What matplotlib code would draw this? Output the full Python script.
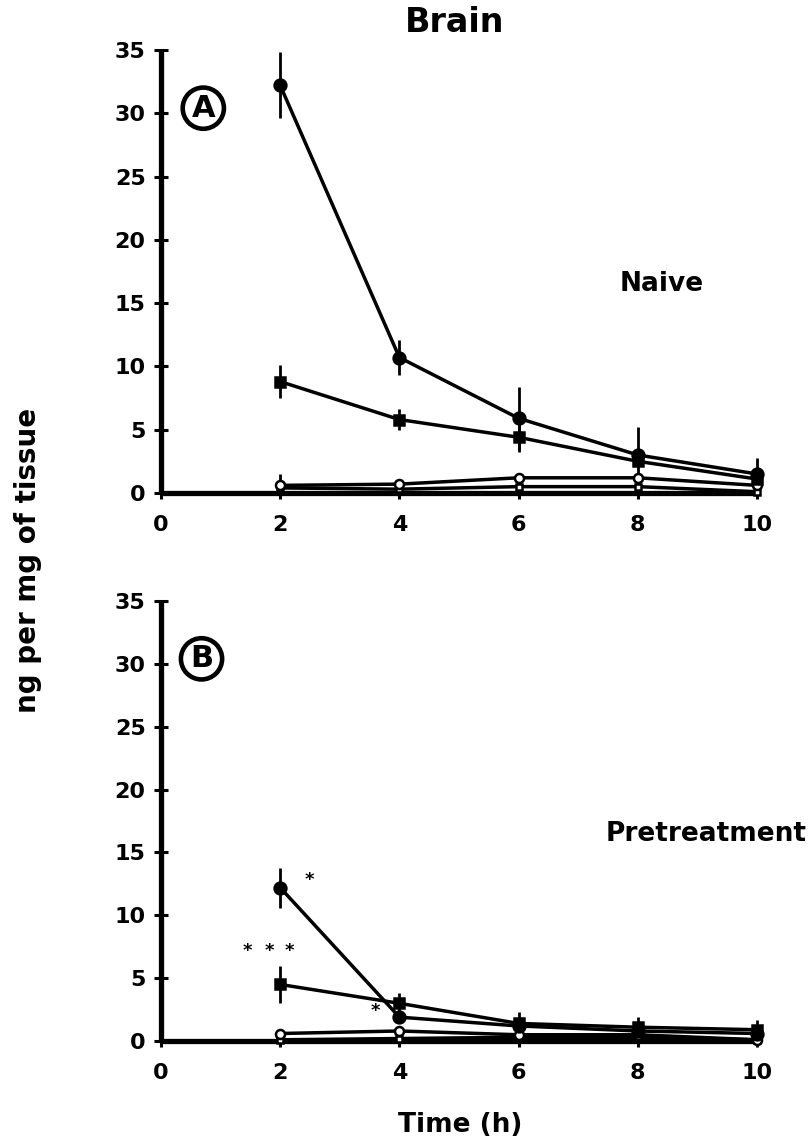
import matplotlib
matplotlib.use("Agg")
import matplotlib.pyplot as plt

plt.rcParams['font.family'] = ['DejaVu Sans']
plt.rcParams['font.weight'] = 'bold'

# -------------------------------------------------------------
# data
# -------------------------------------------------------------
time_h = [2, 4, 6, 8, 10]

# panel A - naive
a_fcirc = [32.2, 10.7, 5.9, 3.0, 1.5]
a_fcirc_err = [2.6, 1.4, 2.5, 2.2, 1.3]
a_fsq = [8.8, 5.8, 4.4, 2.5, 1.1]
a_fsq_err = [1.3, 0.8, 1.2, 0.5, 0.3]
a_ocirc = [0.6, 0.7, 1.2, 1.2, 0.6]
a_ocirc_err = [0.9, 0.2, 0.4, 0.2, 0.1]
a_osq = [0.4, 0.3, 0.5, 0.5, 0.1]

# panel B - pretreatment
b_fcirc = [12.2, 1.9, 1.2, 0.8, 0.6]
b_fcirc_err = [1.6, 0.4, 0.3, 0.2, 0.2]
b_fsq = [4.5, 3.0, 1.4, 1.1, 0.9]
b_fsq_err = [1.5, 0.8, 0.9, 0.8, 0.8]
b_ocirc = [0.6, 0.8, 0.5, 0.5, 0.1]
b_ocirc_err = [0.2, 0.3, 0.1, 0.1, 0.1]
b_osq = [0.1, 0.2, 0.3, 0.3, 0.1]

yticks = [0, 5, 10, 15, 20, 25, 30, 35]
xticks = [0, 2, 4, 6, 8, 10]

# significance stars: (x, y, text)
stars_b = [(1.45, 7.2, '*'), (1.81, 7.2, '*'), (2.16, 7.2, '*'),
           (2.49, 12.8, '*'), (3.6, 2.4, '*')]

LW = 2.5


def draw_series(ax, y, err, marker, filled, ms):
    fc = 'black' if filled else 'white'
    if err is not None:
        ax.errorbar(time_h, y, yerr=err, fmt='none', ecolor='black',
                    elinewidth=2.0, capsize=0, clip_on=False, zorder=2)
    ax.plot(time_h, y, color='black', lw=LW, marker=marker, ms=ms,
            mfc=fc, mec='black', mew=1.8, clip_on=False, zorder=3)


def style_axes(ax):
    ax.set_xlim(0, 10)
    ax.set_ylim(0, 35)
    for s in ['top', 'right']:
        ax.spines[s].set_visible(False)
    for s in ['left', 'bottom']:
        ax.spines[s].set_linewidth(3.8)
        ax.spines[s].set_capstyle('butt')
    ax.set_yticks(yticks)
    ax.set_xticks(xticks)
    ax.tick_params(axis='y', direction='inout', length=10, width=2.2,
                   labelsize=16, pad=6)
    ax.tick_params(axis='x', direction='out', length=4, width=2.2,
                   labelsize=16, pad=12)
    for lab in ax.get_xticklabels() + ax.get_yticklabels():
        lab.set_fontweight('bold')


def panel_letter(ax, x, y, letter):
    ax.text(x, y, letter, fontsize=22, fontweight='bold', ha='center',
            va='center',
            bbox=dict(boxstyle='circle,pad=0.2', fc='white', ec='black', lw=3.3))


fig = plt.figure(figsize=(8.11, 11.43), dpi=100)
axA = fig.add_axes([0.1985, 0.5687, 0.735, 0.3876])
axB = fig.add_axes([0.1985, 0.0892, 0.735, 0.3850])

# panel A
draw_series(axA, a_osq, None, 's', False, 5)
draw_series(axA, a_ocirc, a_ocirc_err, 'o', False, 6.5)
draw_series(axA, a_fsq, a_fsq_err, 's', True, 7.5)
draw_series(axA, a_fcirc, a_fcirc_err, 'o', True, 8.5)
style_axes(axA)
panel_letter(axA, 0.71, 30.4, 'A')
axA.text(8.4, 16.5, 'Naive', fontsize=19, fontweight='bold', ha='center', va='center')

# panel B
draw_series(axB, b_osq, None, 's', False, 5)
draw_series(axB, b_ocirc, b_ocirc_err, 'o', False, 6.5)
draw_series(axB, b_fsq, b_fsq_err, 's', True, 7.5)
draw_series(axB, b_fcirc, b_fcirc_err, 'o', True, 8.5)
style_axes(axB)
panel_letter(axB, 0.68, 30.4, 'B')
for sx, sy, st in stars_b:
    axB.text(sx, sy, st, fontsize=13, fontweight='bold', ha='center', va='center')

fig.text(0.561, 0.980, 'Brain', fontsize=24, fontweight='bold', ha='center', va='center')
fig.text(0.994, 1 - 834 / 1143, 'Pretreatment', fontsize=19, fontweight='bold',
         ha='right', va='center')
fig.text(0.567, 0.016, 'Time (h)', fontsize=19, fontweight='bold', ha='center', va='center')
fig.text(0.034, 0.51, 'ng per mg of tissue', fontsize=20, fontweight='bold',
         ha='center', va='center', rotation=90)

fig.savefig('out.png', dpi=100)
